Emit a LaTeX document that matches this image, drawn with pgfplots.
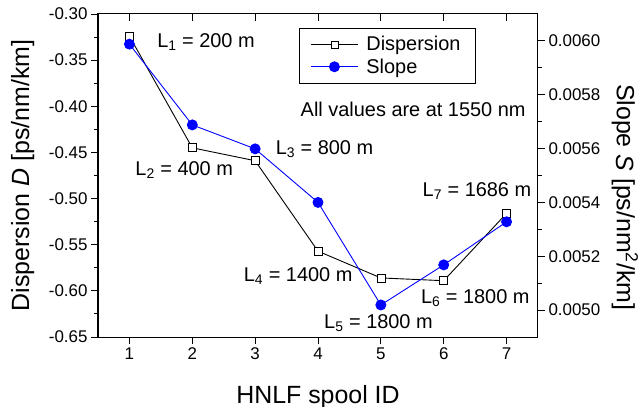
\documentclass[border=0pt]{standalone}
\usepackage{pgfplots}
\pgfplotsset{compat=1.18}
\usepackage{fontspec}
\setmainfont{Liberation Sans}
\begin{document}
\begin{tikzpicture}
\useasboundingbox (-98bp,-70bp) rectangle (543bp,337bp);
\pgfplotsset{
  common/.style={
    scale only axis, width=440bp, height=323bp, at={(0,0)}, anchor=south west,
    xmin=0.5, xmax=7.5, xtick={1,2,3,4,5,6,7},
    axis line style={line width=1bp},
    every tick/.style={line width=0.9bp, black},
    major tick length=7bp, minor tick length=4bp,
    tick label style={font=\fontsize{17}{20}\selectfont},
    label style={font=\fontsize{25}{30}\selectfont},
    /pgf/number format/assume math mode=true,
    scaled y ticks=false,
  },
  legend image code/.code={\draw[mark repeat=2,mark phase=2,#1] plot coordinates {(0bp,0bp) (23.5bp,0bp) (47bp,0bp)};},
}
\begin{axis}[common,
  ymin=-0.65, ymax=-0.30, ytick={-0.65,-0.60,-0.55,-0.50,-0.45,-0.40,-0.35,-0.30}, minor y tick num=1,
  xtick pos=left, ytick pos=left, tick align=outside,
  yticklabel style={/pgf/number format/.cd, fixed, fixed zerofill, precision=2},
  xlabel={HNLF spool ID},
  xlabel style={at={(axis description cs:0.5,0)}, anchor=base, yshift=-66bp},
  ylabel={Dispersion \textit{D} [ps/nm/km]},
  ylabel style={at={(axis description cs:-0.1568,0.5)}, anchor=base},
]
\addplot[black, line width=0.9bp, mark=square*, mark size=4bp, mark options={fill=white, draw=black, line width=0.7bp}]
  coordinates {(1,-0.324) (2,-0.445) (3,-0.459) (4,-0.557) (5,-0.586) (6,-0.589) (7,-0.516)};
\begin{scope}[every node/.style={anchor=base west, inner sep=0pt, font=\fontsize{20}{24}\selectfont}]
\node at (axis cs:1.44,-0.3358) {L\textsubscript{1} = 200 m};
\node at (axis cs:1.093,-0.4753) {L\textsubscript{2} = 400 m};
\node at (axis cs:3.325,-0.4518) {L\textsubscript{3} = 800 m};
\node at (axis cs:3.722,-0.4113) {All values are at 1550 nm};
\node at (axis cs:2.818,-0.5902) {L\textsubscript{4} = 1400 m};
\node at (axis cs:4.096,-0.6407) {L\textsubscript{5} = 1800 m};
\node at (axis cs:5.636,-0.6136) {L\textsubscript{6} = 1800 m};
\node at (axis cs:5.663,-0.498) {L\textsubscript{7} = 1686 m};
\end{scope}
\end{axis}
\begin{axis}[common,
  ymin=0.0049, ymax=0.0061, ytick={0.0050,0.0052,0.0054,0.0056,0.0058,0.0060}, minor y tick num=1,
  yticklabel style={/pgf/number format/.cd, fixed, fixed zerofill, precision=4},
  xtick pos=right, ytick pos=right, xtick align=inside, ytick align=outside,
  xticklabels={},
  ylabel={Slope \textit{S} [ps/nm\textsuperscript{2}/km]},
  ylabel style={at={(axis description cs:1.1795,0.433)}, rotate=180, anchor=base},
  legend style={at={(axis description cs:0.457,0.957)}, anchor=north west, draw=black, line width=0.8bp,
    font=\fontsize{20}{22}\selectfont, inner xsep=11bp, inner ysep=5bp, row sep=0bp,
    nodes={inner xsep=3.5bp, inner ysep=3.2bp},
    /tikz/every odd column/.append style={column sep=4.5bp}},
  legend cell align=left,
]
\addlegendimage{black, line width=0.9bp, mark=square*, mark size=3.5bp, mark options={fill=white, draw=black, line width=0.7bp}}
\addlegendentry{Dispersion}
\addplot[blue, line width=0.9bp, mark=*, mark size=5bp, mark options={fill=blue, draw=blue}]
  coordinates {(1,0.005988) (2,0.005688) (3,0.005599) (4,0.005400) (5,0.005019) (6,0.005168) (7,0.005328)};
\addlegendentry{Slope}
\end{axis}
\end{tikzpicture}
\end{document}
